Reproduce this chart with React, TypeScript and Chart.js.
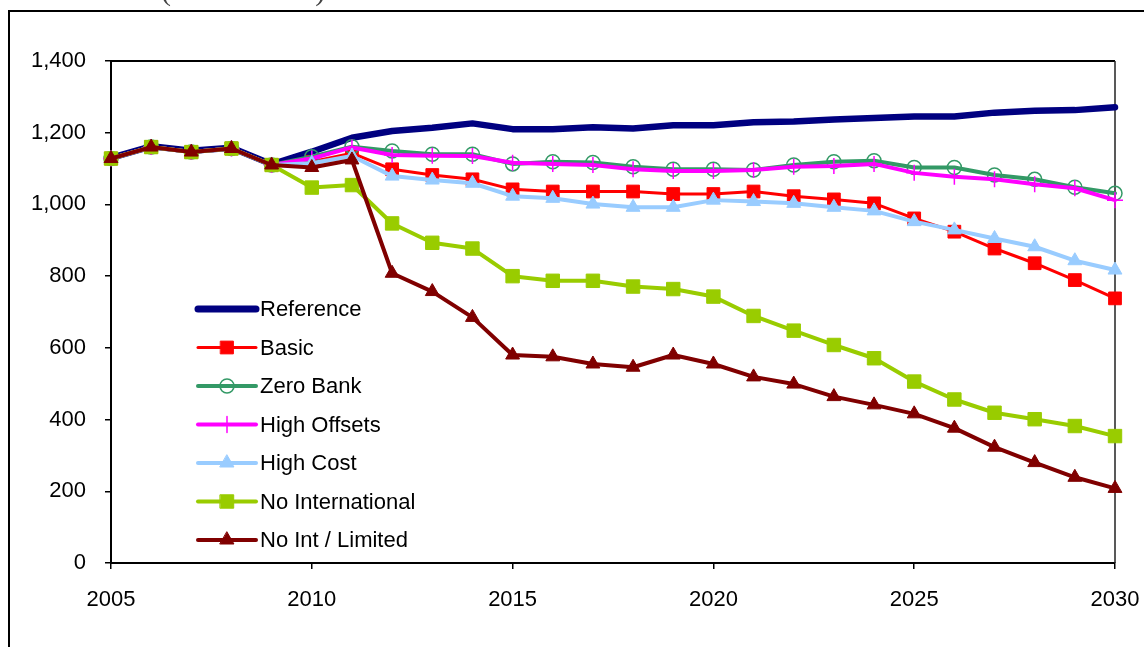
import React, { useEffect, useRef } from "react";
import { Chart, registerables } from "chart.js";

Chart.register(...registerables);

const years = [2005, 2006, 2007, 2008, 2009, 2010, 2011, 2012, 2013, 2014, 2015, 2016, 2017, 2018, 2019, 2020, 2021, 2022, 2023, 2024, 2025, 2026, 2027, 2028, 2029, 2030];

const seriesNames = ["Reference", "Basic", "Zero Bank", "High Offsets", "High Cost", "No International", "No Int / Limited"];

const reference = [1130, 1162, 1150, 1158, 1112, 1147, 1186, 1205, 1214, 1226, 1210, 1210, 1215, 1212, 1221, 1221, 1229, 1231, 1237, 1241, 1245, 1245, 1256, 1261, 1263, 1271];
const basic = [1128, 1160, 1146, 1156, 1110, 1119, 1143, 1098, 1082, 1070, 1042, 1036, 1036, 1036, 1029, 1029, 1036, 1023, 1014, 1003, 961, 924, 877, 836, 789, 738];
const zeroBank = [1128, 1160, 1146, 1156, 1110, 1133, 1161, 1149, 1140, 1140, 1113, 1119, 1117, 1105, 1098, 1098, 1096, 1110, 1119, 1122, 1103, 1103, 1082, 1070, 1048, 1031];
const highOffsets = [1128, 1160, 1146, 1156, 1110, 1128, 1159, 1138, 1136, 1135, 1116, 1113, 1110, 1098, 1093, 1093, 1096, 1105, 1107, 1113, 1088, 1077, 1070, 1056, 1045, 1012];
const highCost = [1128, 1160, 1146, 1156, 1110, 1115, 1135, 1079, 1068, 1059, 1023, 1017, 1001, 992, 992, 1012, 1008, 1003, 992, 982, 952, 929, 905, 882, 843, 817];
const noInternational = [1128, 1160, 1146, 1156, 1110, 1047, 1054, 947, 893, 877, 800, 787, 787, 771, 764, 743, 689, 648, 608, 571, 506, 456, 419, 401, 382, 354];
const noIntLimited = [1128, 1160, 1146, 1156, 1110, 1103, 1124, 808, 757, 685, 580, 575, 555, 546, 580, 555, 519, 499, 464, 441, 416, 376, 323, 280, 239, 208];

const seriesValues = [reference, basic, zeroBank, highOffsets, highCost, noInternational, noIntLimited];

const yTicks = [0, 200, 400, 600, 800, 1000, 1200, 1400];
const xTicks = [2005, 2010, 2015, 2020, 2025, 2030];

const FONT = "'Liberation Sans', Arial, sans-serif";

type Style = { color: string; width: number; marker: string | null; radius: number; filled: boolean; pbw: number };
const styles: Style[] = [
  { color: "#000080", width: 6.5, marker: null, radius: 0, filled: false, pbw: 0 },
  { color: "#FF0000", width: 3, marker: "rect", radius: 9, filled: true, pbw: 1 },
  { color: "#339966", width: 4, marker: "circle", radius: 7, filled: false, pbw: 1.5 },
  { color: "#FF00FF", width: 4, marker: "cross", radius: 8, filled: false, pbw: 1.5 },
  { color: "#99CCFF", width: 4, marker: "triangle", radius: 8, filled: true, pbw: 1 },
  { color: "#99CC00", width: 4, marker: "rect", radius: 9.5, filled: true, pbw: 1 },
  { color: "#800000", width: 4, marker: "triangle", radius: 8, filled: true, pbw: 1 },
];

function drawMarker(ctx: CanvasRenderingContext2D, s: Style, x: number, y: number) {
  if (!s.marker) return;
  const r = s.radius;
  ctx.save();
  ctx.fillStyle = s.color;
  ctx.strokeStyle = s.color;
  ctx.lineWidth = s.pbw;
  ctx.beginPath();
  if (s.marker === "rect") {
    const h = r * Math.SQRT1_2;
    ctx.rect(x - h, y - h, 2 * h, 2 * h);
    ctx.fill();
    ctx.stroke();
  } else if (s.marker === "circle") {
    ctx.arc(x, y, r, 0, Math.PI * 2);
    ctx.stroke();
  } else if (s.marker === "cross") {
    ctx.moveTo(x, y - r);
    ctx.lineTo(x, y + r);
    ctx.moveTo(x - r, y);
    ctx.lineTo(x + r, y);
    ctx.stroke();
  } else if (s.marker === "triangle") {
    let a = 0;
    ctx.moveTo(x + Math.sin(a) * r, y - Math.cos(a) * r);
    a += (2 * Math.PI) / 3;
    ctx.lineTo(x + Math.sin(a) * r, y - Math.cos(a) * r);
    a += (2 * Math.PI) / 3;
    ctx.lineTo(x + Math.sin(a) * r, y - Math.cos(a) * r);
    ctx.closePath();
    ctx.fill();
    ctx.stroke();
  }
  ctx.restore();
}

const framePlugin = {
  id: "frame",
  beforeDraw(chart: any) {
    const ctx = chart.ctx as CanvasRenderingContext2D;
    ctx.save();
    ctx.fillStyle = "#ffffff";
    ctx.fillRect(0, 0, chart.width, chart.height);
    ctx.strokeStyle = "#000";
    ctx.lineWidth = 2;
    ctx.beginPath();
    ctx.moveTo(9, chart.height + 5);
    ctx.lineTo(9, 11);
    ctx.lineTo(chart.width + 5, 11);
    ctx.stroke();
    ctx.restore();
  },
  beforeDatasetsDraw(chart: any) {
    const ctx = chart.ctx as CanvasRenderingContext2D;
    const { left, right, top, bottom } = chart.chartArea;
    ctx.save();
    ctx.strokeStyle = "#000";
    ctx.lineWidth = 2;
    ctx.beginPath();
    ctx.moveTo(left, top);
    ctx.lineTo(right, top);
    ctx.stroke();
    ctx.strokeStyle = "#222";
    ctx.lineWidth = 1.5;
    ctx.beginPath();
    ctx.moveTo(right, top);
    ctx.lineTo(right, bottom);
    ctx.stroke();
    ctx.restore();
  },
  afterDraw(chart: any) {
    const ctx = chart.ctx as CanvasRenderingContext2D;
    const x0 = 198, x1 = 256, xm = 227, xt = 260;
    ctx.save();
    seriesNames.forEach((name, i) => {
      const y = 309 + i * 38.5;
      const s = styles[i];
      ctx.strokeStyle = s.color;
      ctx.lineWidth = i === 0 ? 7 : s.width;
      ctx.lineCap = "round";
      ctx.beginPath();
      ctx.moveTo(x0, y);
      ctx.lineTo(x1, y);
      ctx.stroke();
      drawMarker(ctx, s, xm, y);
      ctx.fillStyle = "#000";
      ctx.font = `22px ${FONT}`;
      ctx.textBaseline = "middle";
      ctx.textAlign = "left";
      ctx.fillText(name, xt, y + 1);
    });
    ctx.restore();
  },
};

export default function App() {
  const ref = useRef<HTMLCanvasElement | null>(null);

  useEffect(() => {
    if (!ref.current) return;
    const datasets = seriesValues.map((vals, i) => {
      const s = styles[i];
      return {
        label: seriesNames[i],
        data: years.map((yr, k) => ({ x: yr, y: vals[k] })),
        borderColor: s.color,
        backgroundColor: s.color,
        borderWidth: s.width,
        borderJoinStyle: "round" as const,
        borderCapStyle: "round" as const,
        tension: 0,
        pointRadius: s.marker ? s.radius : 0,
        pointHoverRadius: s.marker ? s.radius : 0,
        pointStyle: (s.marker || "circle") as any,
        pointBackgroundColor: s.filled ? s.color : "rgba(0,0,0,0)",
        pointBorderColor: s.color,
        pointBorderWidth: s.pbw,
        order: seriesNames.length - 1 - i,
        clip: false as any,
      };
    });

    const chart = new Chart(ref.current, {
      type: "line",
      data: { datasets },
      options: {
        animation: false,
        responsive: false,
        maintainAspectRatio: false,
        layout: { padding: { left: 0, top: 61, right: 29, bottom: 0 } },
        plugins: { legend: { display: false }, tooltip: { enabled: false }, title: { display: false } },
        scales: {
          x: {
            type: "linear",
            min: years[0],
            max: years[years.length - 1],
            afterFit: (scale: any) => {
              scale.height = 84;
              scale.paddingLeft = 0;
              scale.paddingRight = 0;
            },
            afterBuildTicks: (scale: any) => { scale.ticks = xTicks.map((v) => ({ value: v })); },
            ticks: {
              callback: (v: any) => String(v),
              color: "#000",
              font: { family: FONT, size: 22 },
              padding: 18,
              maxRotation: 0,
              autoSkip: false,
            },
            grid: { display: true, drawOnChartArea: false, drawTicks: true, tickLength: 6, color: "#000", lineWidth: 1.5 },
            border: { display: true, color: "#000", width: 2 },
          },
          y: {
            type: "linear",
            min: yTicks[0],
            max: yTicks[yTicks.length - 1],
            afterFit: (scale: any) => {
              scale.width = 111;
              scale.paddingTop = 0;
              scale.paddingBottom = 0;
            },
            afterBuildTicks: (scale: any) => { scale.ticks = yTicks.map((v) => ({ value: v })); },
            ticks: {
              callback: (v: any) => Number(v).toLocaleString("en-US"),
              color: "#000",
              font: { family: FONT, size: 22 },
              padding: 19,
              autoSkip: false,
            },
            grid: { display: true, drawOnChartArea: false, drawTicks: true, tickLength: 6, color: "#000", lineWidth: 1.5 },
            border: { display: true, color: "#000", width: 2 },
          },
        },
      },
      plugins: [framePlugin],
    } as any);
    return () => chart.destroy();
  }, []);

  return (
    <div style={{ position: "fixed", left: 0, top: 0, width: 1144, height: 647, overflow: "hidden", background: "#fff" }}>
      <canvas ref={ref} width={1144} height={647} style={{ display: "block", width: 1144, height: 647 }} />
      <div
        style={{
          position: "absolute",
          left: 161,
          top: -25,
          fontFamily: "'Liberation Serif', 'Times New Roman', serif",
          fontSize: 30,
          lineHeight: "30px",
          color: "#444",
          whiteSpace: "nowrap",
        }}
      >
        (million tons)
      </div>
    </div>
  );
}
